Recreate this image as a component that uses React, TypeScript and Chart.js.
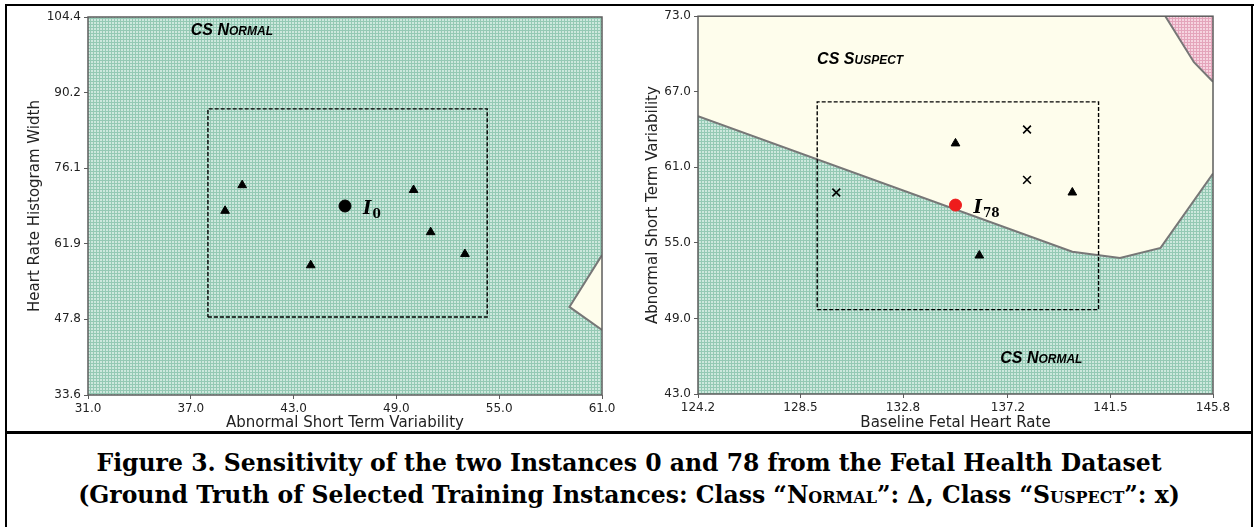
import React, { useEffect, useRef } from "react";
import { Chart, registerables } from "chart.js";

Chart.register(...registerables);

// ---------- Left panel (Instance 0) ----------
const leftXTicks = [31.0, 37.0, 43.0, 49.0, 55.0, 61.0];
const leftYTicks = [33.6, 47.8, 61.9, 76.1, 90.2, 104.4];
const leftNormalRegion = [
  { x: 31.0, y: 33.6 }, { x: 61.0, y: 33.6 }, { x: 61.0, y: 104.4 }, { x: 31.0, y: 104.4 },
];
const leftSuspectRegion = [
  { x: 61.0, y: 59.8 }, { x: 59.1, y: 50.1 }, { x: 61.0, y: 45.8 },
];
const leftBox = [
  { x: 38.0, y: 48.2 }, { x: 54.3, y: 48.2 }, { x: 54.3, y: 87.2 }, { x: 38.0, y: 87.2 }, { x: 38.0, y: 48.2 },
];
const leftNormalPoints = [
  { x: 40.0, y: 72.9 }, { x: 39.0, y: 68.1 }, { x: 44.0, y: 57.9 },
  { x: 50.0, y: 72.0 }, { x: 51.0, y: 64.1 }, { x: 53.0, y: 60.0 },
];
const leftSuspectPoints: { x: number; y: number }[] = [];
const leftInstance = [{ x: 46.0, y: 69.0 }];
const leftRegionLabels = [{ x: 39.4, y: 102.2, text: "CS Normal" }];

// ---------- Right panel (Instance 78) ----------
const rightXTicks = [124.2, 128.5, 132.8, 137.2, 141.5, 145.8];
const rightYTicks = [43.0, 49.0, 55.0, 61.0, 67.0, 73.0];
const rightBoundary = [
  { x: 124.2, y: 65.06 }, { x: 139.9, y: 54.3 }, { x: 141.9, y: 53.8 },
  { x: 143.6, y: 54.6 }, { x: 145.8, y: 60.5 },
];
const rightPinkBoundary = [
  { x: 143.8, y: 73.0 }, { x: 145.0, y: 69.35 }, { x: 145.8, y: 67.8 },
];
const rightNormalRegion = [{ x: 124.2, y: 43.0 }, ...rightBoundary, { x: 145.8, y: 43.0 }];
const rightSuspectRegion = [
  { x: 124.2, y: 73.0 }, ...rightPinkBoundary, ...[...rightBoundary].reverse(),
];
const rightPathoRegion = [{ x: 145.8, y: 73.0 }, ...rightPinkBoundary];
const rightBox = [
  { x: 129.2, y: 49.7 }, { x: 141.0, y: 49.7 }, { x: 141.0, y: 66.2 }, { x: 129.2, y: 66.2 }, { x: 129.2, y: 49.7 },
];
const rightNormalPoints = [
  { x: 135.0, y: 62.9 }, { x: 139.9, y: 59.0 }, { x: 136.0, y: 54.0 },
];
const rightSuspectPoints = [
  { x: 130.0, y: 59.0 }, { x: 138.0, y: 64.0 }, { x: 138.0, y: 60.0 },
];
const rightInstance = [{ x: 135.0, y: 58.0 }];
const rightRegionLabels = [
  { x: 131.0, y: 69.7, text: "CS Suspect" },
  { x: 138.6, y: 45.9, text: "CS Normal" },
];

function makePattern(dark: string, light: string) {
  const c = document.createElement("canvas");
  c.width = 3;
  c.height = 3;
  const g = c.getContext("2d")!;
  g.fillStyle = dark;
  g.fillRect(0, 0, 3, 3);
  g.fillStyle = light;
  g.fillRect(1, 1, 2, 2);
  return g.createPattern(c, "repeat")!;
}

function drawSmallCaps(ctx: CanvasRenderingContext2D, text: string, cx: number, cy: number) {
  const big = 16, small = 12;
  const fam = "'Liberation Sans', Arial, sans-serif";
  const parts = [...text].map((ch) => {
    const lower = ch !== ch.toUpperCase();
    return { ch: ch.toUpperCase(), size: lower ? small : big, w: 0 };
  });
  let total = 0;
  for (const p of parts) {
    ctx.font = `italic bold ${p.size}px ${fam}`;
    p.w = ctx.measureText(p.ch).width;
    total += p.w;
  }
  let x = cx - total / 2;
  const base = cy + big * 0.36;
  ctx.fillStyle = "#000";
  ctx.textBaseline = "alphabetic";
  ctx.textAlign = "left";
  for (const p of parts) {
    ctx.font = `italic bold ${p.size}px ${fam}`;
    ctx.fillText(p.ch, x, base);
    x += p.w;
  }
}

const annotPlugin = {
  id: "annot",
  afterDatasetsDraw(chart: any, _args: any, opts: any) {
    const { ctx, chartArea, scales } = chart;
    ctx.save();
    ctx.strokeStyle = "#5c5c5c";
    ctx.lineWidth = 1.5;
    ctx.strokeRect(chartArea.left, chartArea.top, chartArea.right - chartArea.left, chartArea.bottom - chartArea.top);
    for (const l of opts.regionLabels || []) {
      drawSmallCaps(ctx, l.text, scales.x.getPixelForValue(l.x), scales.y.getPixelForValue(l.y));
    }
    for (const l of opts.instanceLabels || []) {
      const px = scales.x.getPixelForValue(l.x) + 18;
      const py = scales.y.getPixelForValue(l.y);
      ctx.fillStyle = "#000";
      ctx.textAlign = "left";
      ctx.textBaseline = "alphabetic";
      ctx.font = "italic bold 18px 'DejaVu Serif', serif";
      ctx.fillText(l.main, px, py + 8);
      const w = ctx.measureText(l.main).width;
      ctx.font = "bold 12px 'DejaVu Serif', serif";
      ctx.fillText(l.sub, px + w + 1, py + 12);
    }
    ctx.restore();
  },
};

function regionDs(data: any[], fillStyle: any, order: number) {
  return {
    type: "line",
    data,
    showLine: true,
    fill: "shape",
    backgroundColor: fillStyle,
    borderColor: "rgba(0,0,0,0)",
    borderWidth: 0,
    pointRadius: 0,
    order,
  };
}
function lineDs(data: any[], color: string, width: number, dash: number[] = [], order = 3) {
  return {
    type: "line",
    data,
    showLine: true,
    fill: false,
    borderColor: color,
    borderWidth: width,
    borderDash: dash,
    pointRadius: 0,
    order,
  };
}
function pointDs(data: any[], style: string, radius: number, color: string, bw = 1) {
  return {
    type: "line",
    data,
    showLine: false,
    pointStyle: style,
    pointRadius: radius,
    pointBackgroundColor: color,
    pointBorderColor: color,
    pointBorderWidth: bw,
    order: 0,
  };
}

function axisCfg(ticks: number[], title: string, isX: boolean, size: number, titlePad: number) {
  return {
    type: "linear",
    min: ticks[0],
    max: ticks[ticks.length - 1],
    afterBuildTicks: (s: any) => {
      s.ticks = ticks.map((v) => ({ value: v }));
    },
    afterFit: (s: any) => {
      if (isX) s.height = size;
      else s.width = size;
    },
    grid: { display: true, drawOnChartArea: false, drawTicks: true, tickLength: 4, tickColor: "#5c5c5c", lineWidth: 1 },
    border: { display: false },
    ticks: {
      callback: (v: any) => Number(v).toFixed(1),
      font: { family: "'DejaVu Sans', sans-serif", size: 12 },
      color: "#222",
      padding: 3,
      maxRotation: 0,
      autoSkip: false,
    },
    title: {
      display: true,
      text: title,
      font: { family: "'DejaVu Sans', sans-serif", size: 15, lineHeight: 1.2 },
      color: "#222",
      padding: { top: titlePad, bottom: 0 },
    },
  };
}

function Panel(props: any) {
  const ref = useRef<HTMLCanvasElement>(null);
  useEffect(() => {
    const green = makePattern("#94c9b4", "#cde8dd");
    const pink = makePattern("#e4a5bb", "#f6d4e0");
    const yellow = "#fefdec";
    const cfg = props.build(green, yellow, pink);
    const chart = new Chart(ref.current!, {
      type: "line",
      data: { datasets: cfg.datasets },
      options: {
        animation: false,
        responsive: false,
        maintainAspectRatio: false,
        layout: { padding: props.padding },
        plugins: {
          legend: { display: false },
          tooltip: { enabled: false },
          annot: { regionLabels: props.regionLabels, instanceLabels: props.instanceLabels },
        } as any,
        scales: {
          x: axisCfg(props.xTicks, props.xTitle, true, props.xSize, 0) as any,
          y: axisCfg(props.yTicks, props.yTitle, false, props.ySize, props.yTitlePad) as any,
        },
      },
      plugins: [annotPlugin],
    });
    return () => chart.destroy();
  }, []);
  return (
    <canvas
      ref={ref}
      width={props.w}
      height={props.h}
      style={{ position: "absolute", left: props.left, top: props.top, width: props.w, height: props.h }}
    />
  );
}

export default function App() {
  useEffect(() => {
    document.body.style.margin = "0";
  }, []);
  const line = (s: React.CSSProperties) => <div style={{ position: "absolute", background: "#000", ...s }} />;
  const sc: React.CSSProperties = { fontVariant: "small-caps" };
  return (
    <div style={{ position: "relative", width: 1255, height: 527, background: "#fff", overflow: "hidden" }}>
      <Panel
        left={6}
        top={6}
        w={614}
        h={426}
        padding={{ top: 11, right: 18, left: 0, bottom: 0 }}
        xSize={37}
        ySize={82}
        yTitlePad={20}
        xTicks={leftXTicks}
        yTicks={leftYTicks}
        xTitle="Abnormal Short Term Variability"
        yTitle="Heart Rate Histogram Width"
        regionLabels={leftRegionLabels}
        instanceLabels={leftInstance.map((p) => ({ ...p, main: "I", sub: "0" }))}
        build={(green: any, yellow: any) => ({
          datasets: [
            regionDs(leftNormalRegion, green, 7),
            regionDs(leftSuspectRegion, yellow, 6),
            lineDs(leftSuspectRegion, "#777", 2),
            lineDs(leftBox, "#000", 1.4, [4, 2], 1),
            pointDs(leftNormalPoints, "triangle", 5, "#000"),
            pointDs(leftSuspectPoints, "crossRot", 5.5, "#000", 1.6),
            pointDs(leftInstance, "circle", 6, "#000"),
          ],
        })}
      />
      <Panel
        left={620}
        top={6}
        w={624}
        h={426}
        padding={{ top: 10, right: 31, left: 0, bottom: 0 }}
        xSize={38}
        ySize={78}
        yTitlePad={24}
        xTicks={rightXTicks}
        yTicks={rightYTicks}
        xTitle="Baseline Fetal Heart Rate"
        yTitle="Abnormal Short Term Variability"
        regionLabels={rightRegionLabels}
        instanceLabels={rightInstance.map((p) => ({ ...p, main: "I", sub: "78" }))}
        build={(green: any, yellow: any, pink: any) => ({
          datasets: [
            regionDs(rightNormalRegion, green, 7),
            regionDs(rightSuspectRegion, yellow, 6),
            regionDs(rightPathoRegion, pink, 6),
            lineDs(rightBoundary, "#777", 2),
            lineDs(rightPinkBoundary, "#777", 2),
            lineDs(rightBox, "#000", 1.4, [4, 2], 1),
            pointDs(rightNormalPoints, "triangle", 5, "#000"),
            pointDs(rightSuspectPoints, "crossRot", 5.5, "#000", 1.6),
            pointDs(rightInstance, "circle", 6, "#ee1c1c"),
          ],
        })}
      />
      {line({ left: 5, top: 4, width: 1249, height: 2 })}
      {line({ left: 5, top: 4, width: 2, height: 523 })}
      {line({ left: 1251, top: 4, width: 2, height: 523 })}
      {line({ left: 5, top: 431, width: 1248, height: 3 })}
      <div
        style={{
          position: "absolute",
          left: 7,
          width: 1244,
          top: 447,
          textAlign: "center",
          fontFamily: "'DejaVu Serif', Georgia, serif",
          fontWeight: "bold",
          fontSize: 23.5,
          lineHeight: "32px",
          color: "#000",
          whiteSpace: "nowrap",
        }}
      >
        <div>Figure 3. Sensitivity of the two Instances 0 and 78 from the Fetal Health Dataset</div>
        <div>
          (Ground Truth of Selected Training Instances: Class “<span style={sc}>Normal</span>”: Δ, Class “
          <span style={sc}>Suspect</span>”: x)
        </div>
      </div>
    </div>
  );
}
